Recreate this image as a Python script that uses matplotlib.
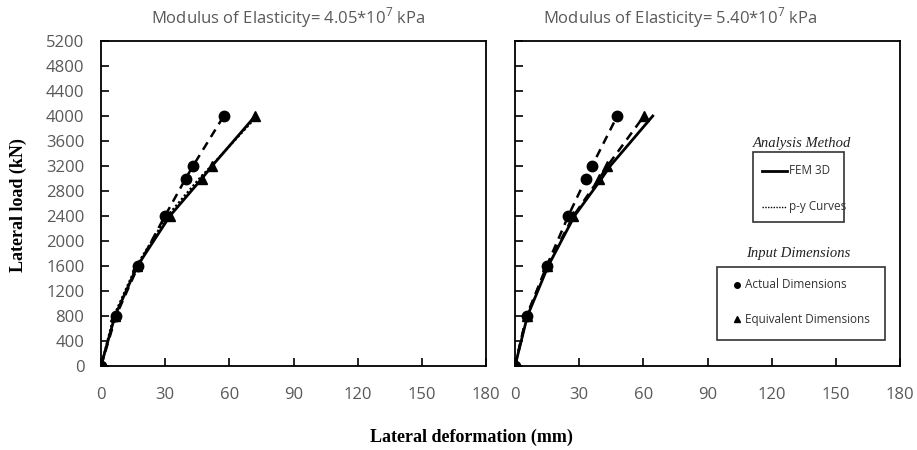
import matplotlib
matplotlib.use("Agg")
import matplotlib.pyplot as plt
from matplotlib.lines import Line2D
from matplotlib.patches import Rectangle

# ---- data ----
loads = [0, 800, 1600, 2400, 3000, 3200, 4000]

# Panel 1: E = 4.05e7 kPa
p1_actual_x = [0, 7.0, 17.4, 29.9, 39.6, 43.0, 57.4]
p1_equiv_x = [0, 6.5, 17.0, 32.2, 47.2, 51.9, 72.1]
p1_py_x = [0, 6.0, 16.5, 31.0, 46.0, 51.5, 73.0]

# Panel 2: E = 5.40e7 kPa
p2_actual_x = [0, 5.4, 14.8, 24.9, 33.2, 36.0, 47.8]
p2_equiv_x = [0, 5.5, 15.0, 27.3, 39.4, 43.2, 60.3]
p2_fem_x = [0, 5.8, 15.5, 27.8, 40.5, 44.5, 64.4]

titles = ["Modulus of Elasticity= 4.05*10$^{7}$ kPa",
          "Modulus of Elasticity= 5.40*10$^{7}$ kPa"]
xticks = [0, 30, 60, 90, 120, 150, 180]
yticks = list(range(0, 5201, 400))

W, H = 917, 450
plt.rcParams['font.family'] = ['Open Sans', 'DejaVu Sans']
plt.rcParams['mathtext.fontset'] = 'custom'
plt.rcParams['mathtext.rm'] = 'Open Sans'
fig = plt.figure(figsize=(W / 100, H / 100), dpi=100)

def fx(px):
    return px / W

def fy(py):
    return 1 - py / H

grey = '#595959'
axes = []
for i, left in enumerate((101, 515)):
    ax = fig.add_axes([fx(left), fy(366), 385 / W, 325 / H])
    ax.set_xlim(0, 180)
    ax.set_ylim(0, 5200)
    ax.set_xticks(xticks)
    ax.set_yticks(yticks)
    ax.tick_params(direction='in', length=6, width=1.2, colors='black',
                   labelcolor=grey, labelsize=12)
    ax.tick_params(axis='x', pad=15)
    ax.tick_params(axis='y', pad=12, labelleft=(i == 0))
    for s in ax.spines.values():
        s.set_linewidth(1.3)
    axes.append(ax)

ax1, ax2 = axes
ms = 7.5
# panel 1
ax1.plot(p1_py_x, loads, color='black', lw=1.6, ls=(0, (1, 1)), zorder=2)
ax1.plot(p1_equiv_x, loads, color='black', lw=2.0, ls='-', marker='^', ms=ms, zorder=3)
ax1.plot(p1_actual_x, loads, color='black', lw=1.8, ls=(0, (3.5, 2.5)), marker='o', ms=ms, zorder=4)
# panel 2
ax2.plot(p2_fem_x, loads, color='black', lw=2.0, ls='-', zorder=2)
ax2.plot(p2_equiv_x, loads, color='black', lw=1.8, ls=(0, (3.5, 2.5)), marker='^', ms=ms, zorder=3)
ax2.plot(p2_actual_x, loads, color='black', lw=1.8, ls=(0, (3.5, 2.5)), marker='o', ms=ms, zorder=4)

# titles
for cx, t in zip((288, 680), titles):
    fig.text(fx(cx), fy(18), t, ha='center', va='center', fontsize=12, color=grey)

# axis labels
fig.text(fx(471), fy(437), 'Lateral deformation (mm)', ha='center', va='center',
         fontsize=13, fontweight='bold', family='Liberation Serif')
fig.text(fx(18), fy(205), 'Lateral load (kN)', ha='center', va='center', rotation=90,
         fontsize=13, fontweight='bold', family='Liberation Serif')

# legends (manual)
def box(x0, y0, x1, y1):
    fig.patches.append(Rectangle((fx(x0), fy(y1)), fx(x1) - fx(x0), fy(y0) - fy(y1),
                                 transform=fig.transFigure, fill=False,
                                 edgecolor='#333333', lw=1.2))

fig.text(fx(802), fy(143), 'Analysis Method', ha='center', va='center', fontsize=10.5,
         style='italic', family='Liberation Serif', color='#222222')
box(753, 152, 844, 222)
fig.add_artist(Line2D([fx(762), fx(787)], [fy(171), fy(171)], color='black', lw=2,
                      transform=fig.transFigure))
fig.text(fx(789), fy(171), 'FEM 3D', ha='left', va='center', fontsize=8.5, color='#333333')
fig.add_artist(Line2D([fx(762), fx(787)], [fy(207), fy(207)], color='black', lw=1,
                      ls=(0, (1, 1)), transform=fig.transFigure))
fig.text(fx(789), fy(207), 'p-y Curves', ha='left', va='center', fontsize=8.5, color='#333333')

fig.text(fx(798), fy(253), 'Input Dimensions', ha='center', va='center', fontsize=10.5,
         style='italic', family='Liberation Serif', color='#222222')
box(717, 267, 885, 340)
fig.add_artist(Line2D([fx(737)], [fy(285)], color='black', marker='o', ms=4, ls='none',
                      transform=fig.transFigure))
fig.text(fx(745), fy(285), 'Actual Dimensions', ha='left', va='center', fontsize=8.5, color='#333333')
fig.add_artist(Line2D([fx(737)], [fy(319)], color='black', marker='^', ms=4, ls='none',
                      transform=fig.transFigure))
fig.text(fx(745), fy(319), 'Equivalent Dimensions', ha='left', va='center', fontsize=8.5, color='#333333')

fig.savefig('out.png', dpi=100)
